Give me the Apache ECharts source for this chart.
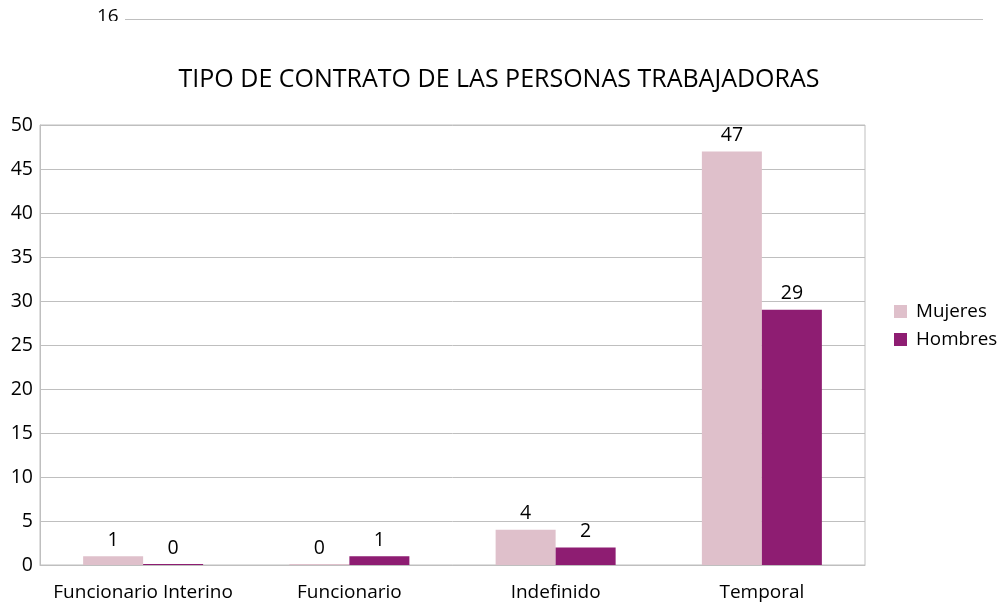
<!DOCTYPE html>
<html>
<head>
<meta charset="utf-8">
<script src="https://cdn.jsdelivr.net/npm/echarts@6/dist/echarts.min.js"></script>
<style>
html,body{margin:0;padding:0;background:#fff;}
#main{width:998px;height:602px;}
</style>
</head>
<body>
<div id="main"></div>
<script>
// datos del grafico
var categorias = ['Funcionario Interino', 'Funcionario', 'Indefinido', 'Temporal'];
var mujeres = [1, 0, 4, 47];
var hombres = [0, 1, 2, 29];
var yTicks = [0, 50, 5];  // min, max, intervalo

var fuente = '"Open Sans", "Noto Sans", sans-serif';

var myChart = echarts.init(document.getElementById('main'));

myChart.setOption({
    animation: false,
    title: {
        text: 'TIPO DE CONTRATO DE LAS PERSONAS TRABAJADORAS',
        left: 'center',
        top: 62,
        textStyle: {
            fontFamily: fuente,
            fontWeight: 'normal',
            fontSize: 25,
            color: '#000'
        }
    },
    legend: {
        orient: 'vertical',
        left: 894,
        top: 302,
        padding: 0,
        itemWidth: 13,
        itemHeight: 13,
        itemGap: 9,
        icon: 'rect',
        textStyle: {
            fontFamily: fuente,
            fontSize: 18.8,
            color: '#000',
            padding: [0, 0, 0, 4]
        },
        data: ['Mujeres', 'Hombres']
    },
    grid: {
        left: 40,
        right: 133,
        top: 125,
        bottom: 37,
        show: true,
        borderColor: '#bfbfbf',
        borderWidth: 1
    },
    xAxis: {
        type: 'category',
        data: categorias,
        axisLine: { lineStyle: { color: '#bfbfbf' } },
        axisTick: { show: false },
        axisLabel: {
            interval: 0,
            fontFamily: fuente,
            fontSize: 19,
            color: '#000',
            margin: 18
        }
    },
    yAxis: {
        type: 'value',
        min: yTicks[0],
        max: yTicks[1],
        interval: yTicks[2],
        axisLine: { show: true, lineStyle: { color: '#bfbfbf' } },
        splitLine: { lineStyle: { color: '#bfbfbf' } },
        axisLabel: {
            fontFamily: fuente,
            fontSize: 19.5,
            color: '#000',
            margin: 7
        }
    },
    series: [{
        name: 'Mujeres',
        type: 'bar',
        data: mujeres,
        barWidth: 60,
        barGap: '0%',
        barMinHeight: 1,
        itemStyle: { color: '#dfc0cb' },
        label: {
            show: true,
            position: 'top',
            distance: 6,
            fontFamily: fuente,
            fontSize: 19.5,
            color: '#000'
        }
    }, {
        name: 'Hombres',
        type: 'bar',
        data: hombres,
        barWidth: 60,
        barGap: '0%',
        barMinHeight: 1,
        itemStyle: { color: '#8e1d72' },
        label: {
            show: true,
            position: 'top',
            distance: 6,
            fontFamily: fuente,
            fontSize: 19.5,
            color: '#000'
        }
    }],
    // resto del grafico anterior, cortado arriba
    graphic: [{
        type: 'text',
        left: 97,
        top: 7,
        style: { text: '16', fontFamily: fuente, fontSize: 19, fill: '#000' }
    }, {
        type: 'rect',
        shape: { x: 90, y: 21, width: 40, height: 20 },
        style: { fill: '#fff' }
    }, {
        type: 'line',
        shape: { x1: 125, y1: 19.5, x2: 983, y2: 19.5 },
        style: { stroke: '#bfbfbf', lineWidth: 1 }
    }]
});
</script>
</body>
</html>
